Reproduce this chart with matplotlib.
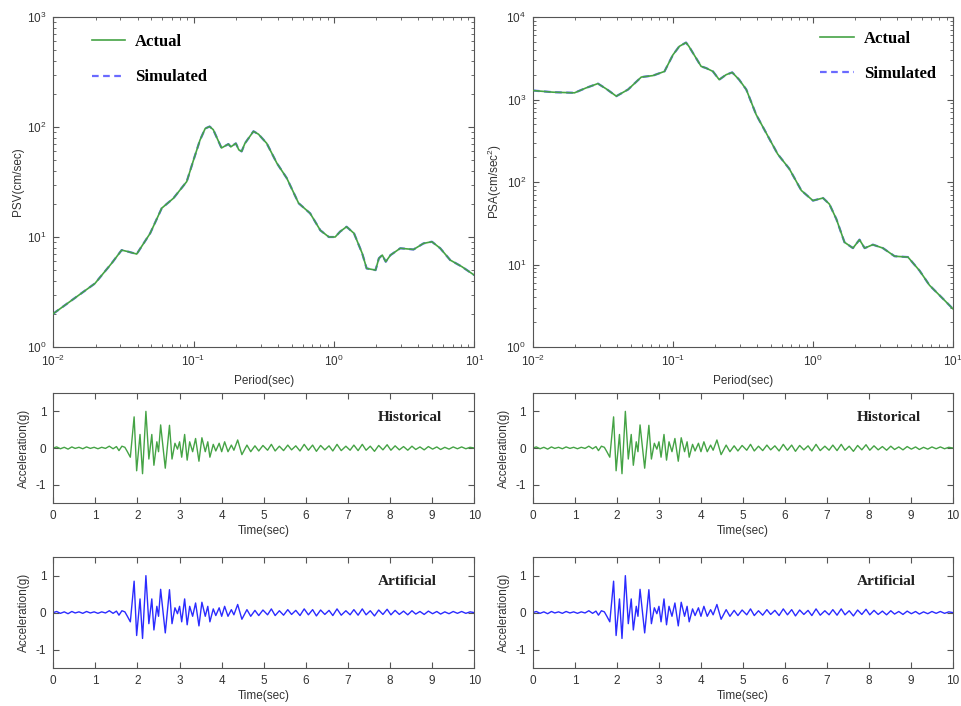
import matplotlib.pyplot as plt
import numpy as np
from matplotlib.ticker import LogLocator, NullFormatter, FixedLocator

plt.rcParams['font.family'] = ['Liberation Sans', 'DejaVu Sans']
plt.rcParams['mathtext.fontset'] = 'custom'
plt.rcParams['mathtext.rm'] = 'Liberation Sans'
plt.rcParams['mathtext.it'] = 'Liberation Sans'
plt.rcParams['mathtext.default'] = 'regular'
plt.rcParams['axes.unicode_minus'] = False

# response spectra
psv_period = [0.01, 0.0198, 0.026, 0.0307, 0.0343, 0.0393, 0.049, 0.0593, 0.0718, 0.0893,
              0.1, 0.111, 0.121, 0.13, 0.138, 0.158, 0.177, 0.184, 0.2, 0.21, 0.22, 0.232,
              0.267, 0.29, 0.332, 0.392, 0.461, 0.56, 0.677, 0.8, 0.92, 1.02, 1.107, 1.23,
              1.39, 1.59, 1.71, 1.98, 2.09, 2.21, 2.34, 2.53, 2.97, 3.69, 4.35, 4.99, 5.72,
              6.74, 8.17, 10.0]
psv_actual = [2.01, 3.78, 5.75, 7.6, 7.35, 7.0, 10.8, 18.3, 22.5, 31.9,
              50.4, 76, 97, 101, 94.6, 64.5, 70, 66, 71, 62, 60, 71,
              91.4, 86, 71, 46.9, 34.3, 20.3, 16.4, 11.5, 10.0, 10.0, 11.2, 12.4,
              10.8, 7.1, 5.18, 5.0, 6.4, 6.85, 5.96, 6.85, 7.9, 7.7, 8.75, 9.06, 7.9,
              6.17, 5.37, 4.5]
psv_simulated = psv_actual

psa_period = [0.01, 0.0139, 0.0198, 0.024, 0.0291, 0.0334, 0.0394, 0.0478, 0.0594, 0.072,
              0.087, 0.1, 0.111, 0.124, 0.13, 0.159, 0.173, 0.193, 0.214, 0.24, 0.265,
              0.297, 0.334, 0.393, 0.49, 0.56, 0.677, 0.826, 1.0, 1.18, 1.31, 1.47, 1.68,
              1.93, 2.15, 2.34, 2.68, 3.16, 3.83, 4.77, 5.78, 6.8, 8.48, 10.0]
psa_actual = [1285, 1227, 1205, 1384, 1560, 1345, 1097, 1322, 1870, 1950,
              2190, 3480, 4410, 4900, 4410, 2520, 2400, 2190, 1740, 2000, 2130,
              1740, 1322, 656, 330, 218, 145, 79, 59.5, 64, 54, 35.5, 18.6,
              15.8, 20, 15.8, 17.4, 15.8, 12.6, 12.3, 8.4, 5.6, 3.85, 2.9]
psa_simulated = psa_actual

# acceleration time history (peaks and troughs)
acc_time = [0.0, 0.08, 0.17, 0.26, 0.35, 0.44, 0.52, 0.61, 0.7, 0.79, 0.88, 0.97, 1.06,
            1.15, 1.24, 1.33, 1.42, 1.5, 1.56, 1.63, 1.7, 1.76, 1.83, 1.92, 1.98, 2.06,
            2.12, 2.2, 2.27, 2.34, 2.39, 2.46, 2.5, 2.55, 2.66, 2.76, 2.82, 2.89, 2.95,
            3.0, 3.05, 3.12, 3.18, 3.24, 3.31, 3.38, 3.46, 3.53, 3.61, 3.67, 3.72, 3.8,
            3.86, 3.94, 4.0, 4.07, 4.15, 4.23, 4.29, 4.38, 4.48, 4.6, 4.69, 4.79, 4.88,
            4.98, 5.09, 5.18, 5.27, 5.37, 5.47, 5.57, 5.66, 5.76, 5.86, 5.96, 6.06, 6.16,
            6.25, 6.35, 6.45, 6.55, 6.64, 6.74, 6.84, 6.95, 7.05, 7.14, 7.24, 7.34, 7.43,
            7.53, 7.63, 7.73, 7.83, 7.93, 8.02, 8.12, 8.22, 8.32, 8.42, 8.52, 8.61, 8.71,
            8.81, 8.91, 9.01, 9.11, 9.2, 9.3, 9.4, 9.5, 9.6, 9.7, 9.8, 9.9, 10.0]
acc_hist = [0.0, 0.03, -0.02, 0.02, -0.03, 0.03, -0.01, 0.02, -0.02, 0.03, -0.01, 0.02, -0.02,
            0.02, -0.01, 0.05, -0.02, 0.04, -0.07, 0.05, 0.02, -0.1, -0.25, 0.85, -0.62, 0.37,
            -0.7, 1.0, -0.3, 0.37, -0.47, 0.17, -0.1, 0.63, -0.55, 0.62, -0.3, 0.13, -0.03,
            0.17, -0.25, 0.37, -0.33, 0.17, -0.1, 0.26, -0.36, 0.28, -0.1, 0.17, -0.25, 0.1,
            -0.08, 0.13, -0.1, 0.17, -0.1, 0.08, -0.06, 0.22, -0.18, 0.08, -0.1, 0.06, -0.08,
            0.07, -0.06, 0.1, -0.08, 0.05, -0.07, 0.08, -0.05, 0.06, -0.08, 0.1, -0.06, 0.08,
            -0.09, 0.07, -0.05, 0.06, -0.08, 0.1, -0.07, 0.05, -0.06, 0.08, -0.07, 0.1, -0.06,
            0.05, -0.09, 0.07, -0.05, 0.09, -0.06, 0.06, -0.05, 0.04, -0.06, 0.05, -0.04, 0.03,
            -0.05, 0.04, -0.03, 0.03, -0.04, 0.02, -0.03, 0.03, -0.02, 0.03, -0.02, 0.02, 0.0]
acc_art = acc_hist

green = '#45a345'
blue = '#2b2bff'
spine = '#555555'

fig = plt.figure(figsize=(9.62, 7.06), dpi=100)


def style(ax):
    for s in ax.spines.values():
        s.set_color(spine)
        s.set_linewidth(0.8)
    ax.tick_params(which='both', direction='in', top=True, right=True,
                   colors=spine, labelcolor='#333333', labelsize=8.5, pad=5)
    ax.tick_params(which='major', length=4)
    ax.tick_params(which='minor', length=2)


def spectrum(rect, per, act, sim, ylab, ymax, leg_loc, leg_anchor):
    ax = fig.add_axes(rect)
    ax.loglog(per, sim, color='#6a6aff', lw=1.6, ls=(0, (3, 2)), label='Simulated', zorder=2)
    ax.loglog(per, act, color=green, lw=1.2, label='Actual', zorder=3)
    ax.set_xlim(1e-2, 1e1)
    ax.set_ylim(1e0, ymax)
    ax.xaxis.set_major_locator(LogLocator(base=10, numticks=10))
    ax.yaxis.set_major_locator(LogLocator(base=10, numticks=10))
    ax.xaxis.set_minor_locator(LogLocator(base=10, subs=np.arange(2, 10), numticks=20))
    ax.yaxis.set_minor_locator(LogLocator(base=10, subs=np.arange(2, 10), numticks=20))
    ax.xaxis.set_minor_formatter(NullFormatter())
    ax.yaxis.set_minor_formatter(NullFormatter())
    ax.set_xlabel('Period(sec)', fontsize=8.5, color='#333333', labelpad=4)
    ax.set_ylabel(ylab, fontsize=8.5, color='#333333', labelpad=2)
    style(ax)
    h, l = ax.get_legend_handles_labels()
    ax.legend(h[::-1], l[::-1], loc=leg_loc, bbox_to_anchor=leg_anchor, frameon=False,
              prop={'family': 'Liberation Serif', 'weight': 'bold', 'size': 12},
              handlelength=2.0, handletextpad=0.6, labelspacing=1.15, borderaxespad=0.0)
    return ax


spectrum([0.0554, 0.5085, 0.4376, 0.4674], psv_period, psv_actual, psv_simulated,
         'PSV(cm/sec)', 1e3, 'upper left', (0.075, 0.968))
spectrum([0.554, 0.5085, 0.4366, 0.4674], psa_period, psa_actual, psa_simulated,
         'PSA(cm/sec$^2$)', 1e4, 'upper right', (0.975, 0.978))


def history(rect, t, a, color, name):
    ax = fig.add_axes(rect)
    ax.plot(t, a, color=color, lw=1.0)
    ax.set_xlim(0, 10)
    ax.set_ylim(-1.5, 1.5)
    ax.xaxis.set_major_locator(FixedLocator(range(0, 11)))
    ax.yaxis.set_major_locator(FixedLocator([-1, 0, 1]))
    ax.set_xlabel('Time(sec)', fontsize=8.5, color='#333333', labelpad=2)
    ax.set_ylabel('Acceleration(g)', fontsize=8.5, color='#333333', labelpad=4)
    style(ax)
    ax.text(0.77, 0.78, name, transform=ax.transAxes, fontsize=11, fontweight='bold',
            family='Liberation Serif', color='#222222', va='center')
    return ax


history([0.0554, 0.2875, 0.4376, 0.1558], acc_time, acc_hist, green, 'Historical')
history([0.554, 0.2875, 0.4366, 0.1558], acc_time, acc_hist, green, 'Historical')
history([0.0554, 0.0538, 0.4376, 0.157], acc_time, acc_art, blue, 'Artificial')
history([0.554, 0.0538, 0.4366, 0.157], acc_time, acc_art, blue, 'Artificial')

fig.savefig('out.png', dpi=100)
